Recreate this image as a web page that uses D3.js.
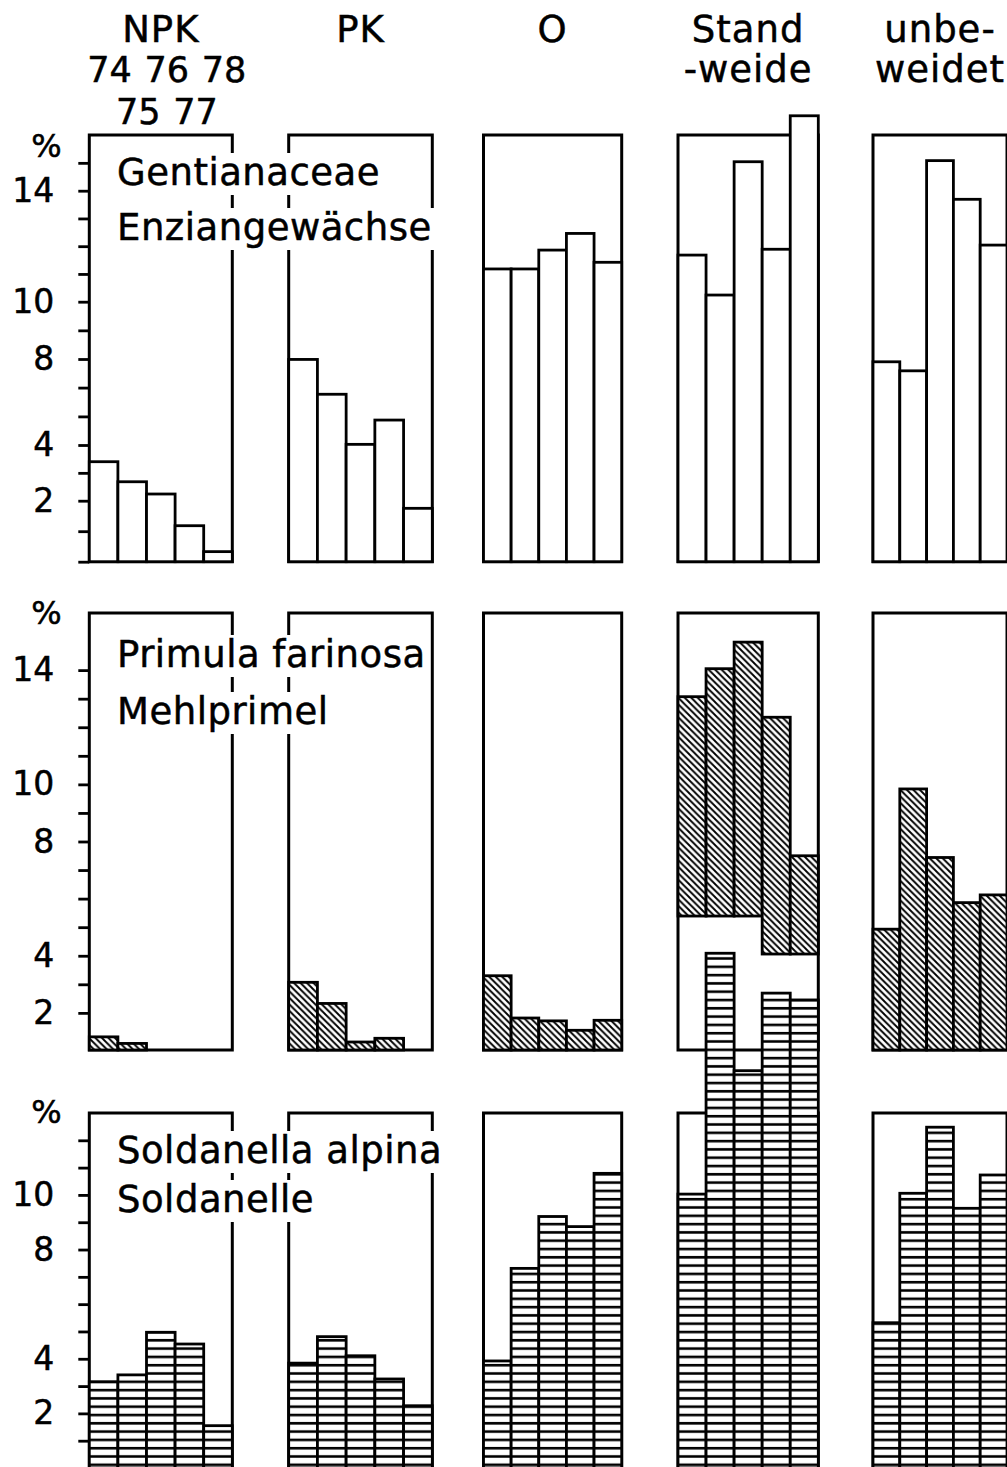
<!DOCTYPE html>
<html>
<head>
<meta charset="utf-8">
<script src="https://cdn.jsdelivr.net/npm/d3@7"></script>
<style>
  body { margin: 0; background: #fff; }
  text { font-family: "DejaVu Sans", sans-serif; fill: #000; stroke: #000; stroke-width: 0.5px; }
</style>
</head>
<body>
<script>
// years on the x axis of every panel
var years = [74, 75, 76, 77, 78];
var yearsTop = [74, 76, 78];
var yearsBottom = [75, 77];

// treatments (column headers)
var groups = ["NPK", "PK", "O", "Standweide", "unbeweidet"];
var groupLines = [["NPK"], ["PK"], ["O"], ["Stand", "-weide"], ["unbe-", "weidet"]];

// % share per treatment, years 74..78
var gentianaceae = [
  [3.40, 2.68, 2.24, 1.18, 0.33],
  [7.98, 6.36, 4.03, 5.16, 1.75],
  [11.18, 11.18, 11.86, 12.46, 11.42],
  [11.68, 10.24, 15.04, 11.89, 16.69],
  [7.87, 7.45, 15.08, 13.69, 12.04]
];
var primula = [
  [1.16, 0.93, 0, 0, 0],
  [3.07, 2.33, 0.98, 1.11, 0],
  [3.30, 1.82, 1.72, 1.39, 1.74],
  [13.07, 14.05, 14.98, 12.35, 7.50],
  [4.93, 9.84, 7.44, 5.86, 6.13]
];
// lower end of the Standweide Primula bars (cut off by the Soldanella bars)
var primulaFloorStandweide = [5.39, 5.39, 5.39, 4.06, 4.06];
var soldanella = [
  [3.16, 3.41, 4.97, 4.54, 1.55],
  [3.84, 4.81, 4.11, 3.26, 2.28],
  [3.92, 7.31, 9.21, 8.84, 10.79],
  [10.03, 18.85, 14.55, 17.39, 17.14],
  [5.32, 10.06, 12.48, 9.51, 10.73]
];

var titles = [["Gentianaceae", "Enziangewächse"], ["Primula farinosa", "Mehlprimel"], ["Soldanella alpina", "Soldanelle"]];
var tickLabels = [[2, 4, 8, 10, 14], [2, 4, 8, 10, 14], [2, 4, 8, 10]];
var ticks1 = [0, 1, 2, 3, 4, 5.33, 6.67, 8, 9, 10, 11, 12, 13, 14, 15];
var ticks2 = [2, 3, 4, 5, 6, 7, 8, 9, 10, 11, 12, 13, 14];
var ticks3 = [1, 2, 3, 4, 5, 6, 7, 8, 9, 10, 11, 12];

// layout
var panelX = [89.3, 288.7, 483.5, 678, 873];
var panelW = [143, 143.6, 138.2, 140.3, 134];

var svg = d3.select("body").append("svg")
    .attr("width", 1007)
    .attr("height", 1467);

svg.append("rect").attr("width", 1007).attr("height", 1467).attr("fill", "#fff");

var defs = svg.append("defs");
var diag = defs.append("pattern").attr("id", "diag")
    .attr("patternUnits", "userSpaceOnUse").attr("width", 6.5).attr("height", 6.5);
diag.append("rect").attr("width", 6.5).attr("height", 6.5).attr("fill", "#fff");
diag.append("path").attr("d", "M-1,-1L7.5,7.5M-1,5.5L1,7.5M5.5,-1L7.5,1")
    .attr("stroke", "#000").attr("stroke-width", 1.9);

var hl = defs.append("pattern").attr("id", "hlines")
    .attr("patternUnits", "userSpaceOnUse").attr("width", 10).attr("height", 8.3);
hl.append("rect").attr("width", 10).attr("height", 8.3).attr("fill", "#fff");
hl.append("line").attr("x1", 0).attr("x2", 10).attr("y1", 4).attr("y2", 4)
    .attr("stroke", "#000").attr("stroke-width", 2.6);

var rows = [
  { values: gentianaceae, base: 0, top: 16, fill: "#fff", ticks: ticks1, labels: tickLabels[0],
    y: d3.scaleLinear().domain([0, 2, 4, 8, 10, 14, 16]).range([561.7, 500.7, 445, 359, 301.7, 190.7, 135]),
    titleY: [185, 240], pctY: 157 },
  { values: primula, base: 0.7, top: 16, fill: "url(#diag)", ticks: ticks2, labels: tickLabels[1],
    y: d3.scaleLinear().domain([0.7, 16]).range([1050, 613]),
    titleY: [667, 724], pctY: 624 },
  { values: soldanella, base: 0, top: 13, fill: "url(#hlines)", ticks: ticks3, labels: tickLabels[2],
    y: d3.scaleLinear().domain([0, 13]).range([1468, 1113]),
    titleY: [1163, 1212], pctY: 1123 }
];

var bands = groups.map(function(g, p) {
  return d3.scaleBand().domain(years).range([panelX[p], panelX[p] + panelW[p]]);
});

// column headers
groups.forEach(function(g, p) {
  var cx = panelX[p] + panelW[p] / 2;
  groupLines[p].forEach(function(line, k) {
    svg.append("text")
      .attr("x", cx).attr("y", 42 + k * 40)
      .attr("text-anchor", "middle")
      .style("font-size", "37px")
      .style("letter-spacing", "1px")
      .text(line);
  });
});

// years under NPK
svg.selectAll(".yrTop").data(yearsTop).enter().append("text")
  .attr("x", function(d) { return bands[0](d) + bands[0].bandwidth() / 2 + 6; })
  .attr("y", 82)
  .attr("text-anchor", "middle")
  .style("font-size", "35px")
  .text(function(d) { return d; });
svg.selectAll(".yrBot").data(yearsBottom).enter().append("text")
  .attr("x", function(d) { return bands[0](d) + bands[0].bandwidth() / 2 + 6; })
  .attr("y", 124)
  .attr("text-anchor", "middle")
  .style("font-size", "35px")
  .text(function(d) { return d; });

rows.forEach(function(row, r) {
  var y = row.y;

  // axis
  var ax = svg.append("g")
    .attr("transform", "translate(" + panelX[0] + ",0)")
    .call(d3.axisLeft(y).tickValues(row.ticks).tickSize(11).tickPadding(24)
      .tickFormat(function(d) { return row.labels.indexOf(d) >= 0 ? d : ""; }));
  ax.select(".domain").remove();
  ax.selectAll(".tick line").attr("stroke", "#000").attr("stroke-width", 2.8);
  ax.selectAll(".tick text").style("font-size", "33px").style("font-family", "DejaVu Sans")
    .attr("fill", "#000");

  svg.append("text")
    .attr("x", 46.5).attr("y", row.pctY)
    .attr("text-anchor", "middle")
    .style("font-size", "32px")
    .text("%");

  // frames
  groups.forEach(function(g, p) {
    svg.append("rect")
      .attr("x", panelX[p]).attr("y", y(row.top))
      .attr("width", panelW[p]).attr("height", y(row.base) - y(row.top))
      .attr("fill", "none").attr("stroke", "#000").attr("stroke-width", 3);
  });

  // bars
  groups.forEach(function(g, p) {
    var x = bands[p];
    var floors = (r == 1 && p == 3) ? primulaFloorStandweide : years.map(function() { return row.base; });
    var d = row.values[p].map(function(v, i) { return { year: years[i], v: v, f: floors[i] }; })
      .filter(function(e) { return e.v > e.f; });
    svg.selectAll(".bar" + r + "_" + p).data(d).enter().append("rect")
      .attr("x", function(e) { return x(e.year); })
      .attr("y", function(e) { return y(e.v); })
      .attr("width", x.bandwidth())
      .attr("height", function(e) { return y(e.f) - y(e.v); })
      .attr("fill", row.fill)
      .attr("stroke", "#000")
      .attr("stroke-width", 2.8);
  });
});

// species names, with a white box behind each line
rows.forEach(function(row, r) {
  titles[r].forEach(function(t, k) {
    var box = svg.append("rect").attr("fill", "#fff");
    var txt = svg.append("text")
      .attr("x", 117).attr("y", row.titleY[k])
      .style("font-size", "37px")
      .style("letter-spacing", "0.5px")
      .text(t);
    var bb = txt.node().getBBox();
    box.attr("x", bb.x - 3).attr("y", row.titleY[k] - 32)
      .attr("width", bb.width + 6).attr("height", 42);
  });
});
</script>
</body>
</html>
